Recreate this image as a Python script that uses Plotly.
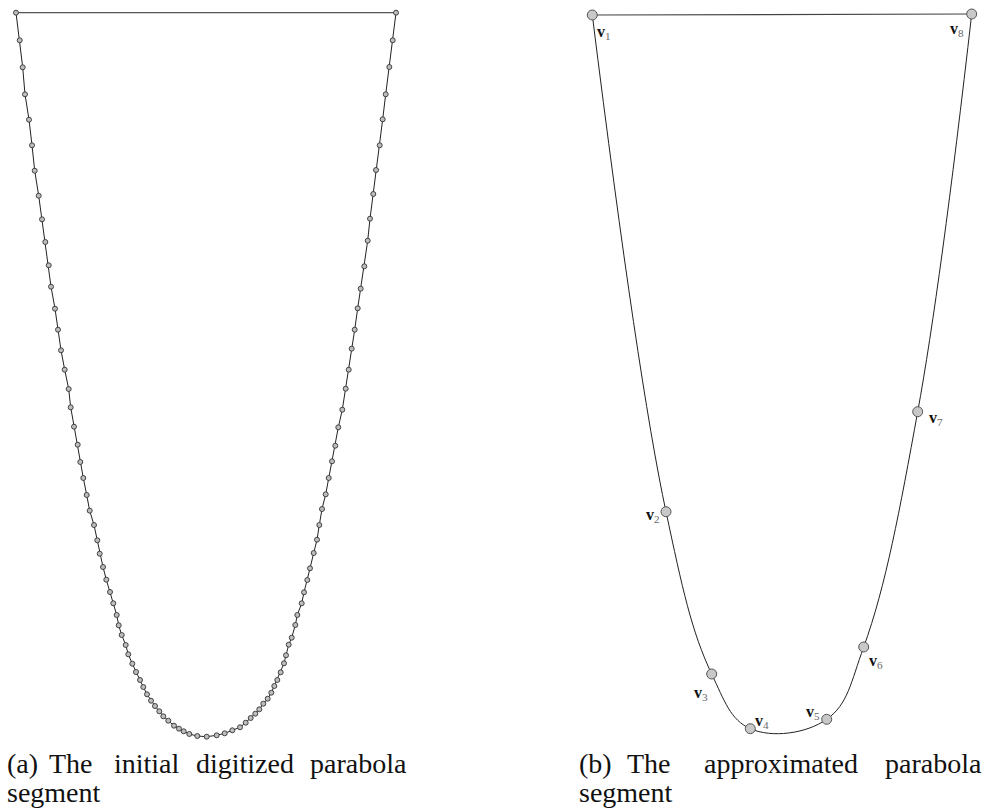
import plotly.graph_objects as go

# ---------------- Panel (a): digitized parabola samples, ordered along the curve
a_x = [-190, -186.3, -183.3, -181, -177, -174, -171.3, -167.3, -164, -160.7,
       -157.3, -155, -151, -148, -145, -141.3, -137.3, -135.3, -132, -128.3,
       -125.7, -122.7, -119.3, -116.3, -112, -108.7, -106.3, -103, -99.7, -96,
       -92.7, -89.3, -87.3, -84.3, -80.3, -77.7, -73.7, -70, -66, -62.7,
       -59, -55, -51, -46.7, -42.7, -37.7, -32, -27, -22.3, -16.7,
       -8.7, 0.7, 10.7, 18.7, 26.3, 34, 39.7, 44.7, 49.3, 53.3,
       57.3, 61.7, 65.3, 68.3, 71.3, 74.7, 78, 80, 82.7, 85.7,
       89.3, 91.3, 95.7, 98, 101.3, 104, 107.7, 111, 113.3, 116,
       119.7, 122.7, 126, 129.3, 132.3, 136.3, 139.7, 142.7, 145.7, 148.7,
       151.7, 154.7, 158.3, 161.7, 164, 167.3, 170, 173.7, 176.7, 179.7,
       183.3, 186.7, 190]
a_y = [724.3, 696.7, 669.7, 642.7, 617.3, 591.7, 566.3, 541.3, 517.7, 495,
       471.7, 450.3, 428.3, 407.3, 386.7, 367.3, 348, 329.7, 310.3, 292.3,
       275, 259, 242, 226.3, 212, 196.7, 183.3, 170, 157.3, 145,
       133.7, 122, 111.7, 102, 92, 82.7, 73.3, 65, 57, 50,
       42.7, 36.3, 31, 25.7, 20.7, 16.3, 11.3, 8.3, 5.7, 3,
       1, 0.3, 1.7, 3.7, 6.7, 9.7, 14.3, 19, 23.3, 27.7,
       33.3, 38.3, 44.3, 51, 57, 64.7, 73.7, 81.7, 92.3, 99.3,
       112, 122, 133.7, 144.7, 157, 168.7, 184, 197.3, 212, 228,
       242.7, 259, 275.7, 291.3, 309.7, 327.3, 348.3, 367.3, 388.3, 407.3,
       428.7, 448.3, 470.7, 496.3, 518.3, 543, 567, 591.7, 617.7, 642.7,
       670, 696.7, 724.3]

# ---------------- Panel (b): approximated vertices v1..v8
b_x = [0.3, 74, 119.7, 158.3, 234.7, 271.7, 325.7, 379.7]
b_y = [725, 228.3, 66, 11.3, 20.7, 93, 328.3, 726]
b_names = ["1", "2", "3", "4", "5", "6", "7", "8"]

# label placement relative to each vertex (pixels)
lab_dx = [12, -13, -11, 12, -14, 12, 18, -15]
lab_dy = [-17, -4, -19, 7, 7, -14, -7, -15]

# ---------------- Captions (word, left px, line)
cap_words = [("(a)", 5, 1), ("The", 47, 1), ("initial", 112, 1), ("digitized", 194, 1),
             ("parabola", 308, 1), ("segment", 5, 2),
             ("(b)", 577, 1), ("The", 625, 1), ("approximated", 702, 1),
             ("parabola", 883, 1), ("segment", 577, 2)]
cap_line_y = {1: 763, 2: 792}

W, H = 987, 809
fig = go.Figure()

# Panel (a)
fig.add_trace(go.Scatter(x=[a_x[-1], a_x[0]], y=[a_y[-1], a_y[0]], mode="lines",
                         line=dict(color="#555555", width=1.2), xaxis="x", yaxis="y",
                         hoverinfo="skip"))
fig.add_trace(go.Scatter(x=a_x, y=a_y, mode="lines+markers",
                         line=dict(color="#222222", width=1),
                         marker=dict(size=5, color="#bdbdbd",
                                     line=dict(color="#333333", width=0.9)),
                         xaxis="x", yaxis="y", cliponaxis=False))

# Panel (b)
fig.add_trace(go.Scatter(x=b_x, y=b_y, mode="lines",
                         line=dict(color="#222222", width=1, shape="spline", smoothing=1.1),
                         xaxis="x2", yaxis="y2", hoverinfo="skip"))
fig.add_trace(go.Scatter(x=[b_x[-1], b_x[0]], y=[b_y[-1], b_y[0]], mode="lines",
                         line=dict(color="#444444", width=1.2), xaxis="x2", yaxis="y2",
                         hoverinfo="skip"))
fig.add_trace(go.Scatter(x=b_x, y=b_y, mode="markers",
                         marker=dict(size=10, color="#c8c8c8",
                                     line=dict(color="#555555", width=1)),
                         xaxis="x2", yaxis="y2", cliponaxis=False))

annotations = []
for xi, yi, nm, dx, dy in zip(b_x, b_y, b_names, lab_dx, lab_dy):
    annotations.append(dict(
        x=xi, y=yi, xref="x2", yref="y2", showarrow=False,
        text="<b>v</b><sub><span style='color:#666'>%s</span></sub>" % nm,
        font=dict(family="Liberation Serif", size=16, color="#111111"),
        xshift=dx, yshift=dy, xanchor="center", yanchor="middle"))

for word, px, line in cap_words:
    annotations.append(dict(
        x=px / W, y=1 - cap_line_y[line] / H, xref="paper", yref="paper",
        text=word, showarrow=False, xanchor="left", yanchor="middle",
        font=dict(family="Liberation Serif", size=28, color="#111111")))

hidden = dict(visible=False, showgrid=False, zeroline=False, fixedrange=True)
fig.update_layout(
    width=W, height=H, autosize=False,
    margin=dict(l=0, r=0, t=0, b=0, pad=0),
    paper_bgcolor="white", plot_bgcolor="white", showlegend=False,
    xaxis=dict(domain=[0, 420 / W], range=[-206, 214], **hidden),
    yaxis=dict(domain=[0, 1], range=[-72, 737], **hidden),
    xaxis2=dict(domain=[540 / W, 1], range=[-52, 395], anchor="y2", **hidden),
    yaxis2=dict(domain=[0, 1], range=[-69, 740], anchor="x2", **hidden),
    annotations=annotations,
)

fig.write_html("out.html", config={"displayModeBar": False},
               post_script="document.body.style.margin='0';document.body.style.overflow='hidden';")
